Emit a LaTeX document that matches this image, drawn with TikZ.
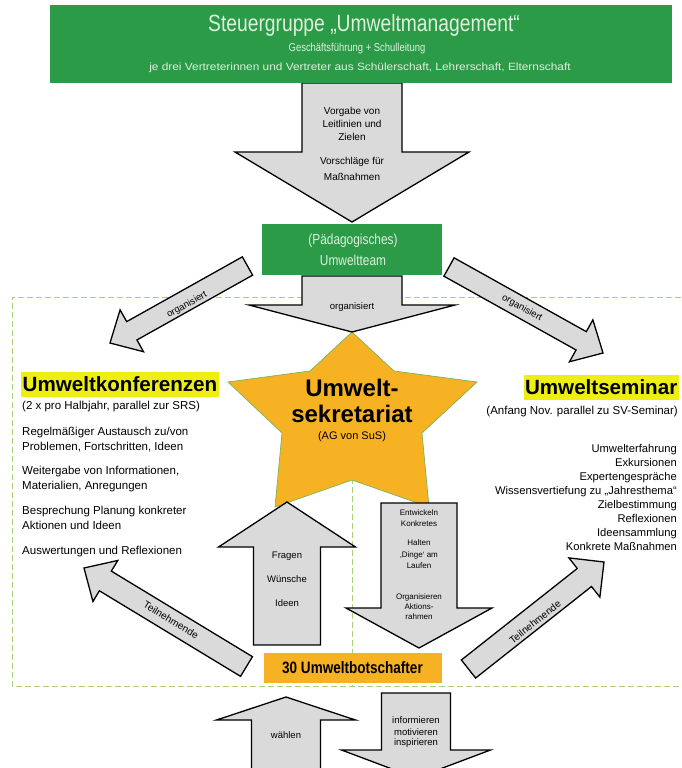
\documentclass[tikz,border=0pt]{standalone}
\usepackage{fontspec}
\setmainfont{Liberation Sans}
\newfontfamily\narrowfont[FakeStretch=0.82]{Liberation Sans}
\usetikzlibrary{calc}
\definecolor{ggreen}{RGB}{44,155,72}
\definecolor{gtext}{RGB}{222,240,222}
\definecolor{sorange}{RGB}{247,178,35}
\definecolor{hyellow}{RGB}{238,238,20}
\definecolor{agrey}{RGB}{218,218,218}
\definecolor{dgreen}{RGB}{170,208,120}
\definecolor{sedge}{RGB}{120,180,90}
\tikzset{
  arrowbody/.style={fill=agrey, draw=black, line width=1.3pt, line join=miter},
  dashline/.style={draw=dgreen, dash pattern=on 6pt off 3pt, line width=0.8pt},
  lbl/.style={inner sep=0pt, align=center},
  listtxt/.style={inner sep=0pt, font=\fontsize{11.5}{13}\selectfont},
  rlisttxt/.style={inner sep=0pt, font=\fontsize{11.2}{13}\selectfont},
  arrtxt/.style={inner sep=0pt, font=\fontsize{9.5}{11}\selectfont},
  smalltxt/.style={inner sep=0pt, font=\fontsize{8}{9}\selectfont},
  headtxt/.style={fill=hyellow, inner xsep=1.5pt, inner ysep=0pt, minimum height=25pt, font=\bfseries\fontsize{20.6}{22}\selectfont},
}
\newcommand\blockarrow[5]{%
  \coordinate (T) at (#1);
  \coordinate (P) at (#2);
  \coordinate (H) at ($(P)!#5!(T)$);
  \draw[arrowbody] ($(T)!#3!90:(P)$) -- ($(H)!#3!90:(P)$) -- ($(H)!#4!90:(P)$) -- (P)
     -- ($(H)!#4!-90:(P)$) -- ($(H)!#3!-90:(P)$) -- ($(T)!#3!-90:(P)$) -- cycle;
}
\begin{document}
\begin{tikzpicture}[x=1pt,y=-1pt]
\useasboundingbox (0,0) rectangle (681,768);
\clip (0,0) rectangle (681,768);
\fill[white] (0,0) rectangle (681,768);

% dashed frame
\draw[dashline] (681,297) -- (12,297) -- (12,686) -- (681,686);
\draw[dashline] (352,478) -- (352,686);

% top big arrow
\blockarrow{352,83}{352,222}{50pt}{117pt}{70pt}
\node[arrtxt, font=\fontsize{10}{11}\selectfont] (v1) at (352,112) {Vorgabe von};
\node[arrtxt, font=\fontsize{10}{11}\selectfont] (v2) at (352,124) {Leitlinien und};
\node[arrtxt, font=\fontsize{10}{11}\selectfont] (v3) at (352,137) {Zielen};
\node[arrtxt, font=\fontsize{10}{11}\selectfont] (v4) at (352,162) {Vorschläge für};
\node[arrtxt, font=\fontsize{10}{11}\selectfont] (v5) at (352,177) {Maßnahmen};

% banner
\node[fill=ggreen, minimum width=622pt, minimum height=77pt, inner sep=0pt] (steuer) at (361,44) {};
\node[lbl, text=gtext, font=\narrowfont\fontsize{23.5}{24}\selectfont] (st1) at (364,25) {Steuergruppe „Umweltmanagement“};
\node[lbl, text=gtext, font=\narrowfont\fontsize{11.5}{12}\selectfont] (st2) at (357,49) {Geschäftsführung + Schulleitung};
\node[lbl, text=gtext, font=\fontsize{10.5}{12}\selectfont] (st3) at (360,68) {\scalebox{1.13}[1]{je drei Vertreterinnen und Vertreter aus Schülerschaft, Lehrerschaft, Elternschaft}};

% Umweltteam
\node[fill=ggreen, minimum width=180pt, minimum height=51pt, inner sep=0pt] (team) at (352,249.5) {};
\node[lbl, text=gtext, font=\narrowfont\fontsize{14.5}{15}\selectfont] (tm1) at (353,241) {(Pädagogisches)};
\node[lbl, text=gtext, font=\narrowfont\fontsize{14.5}{15}\selectfont] (tm2) at (353,260) {Umweltteam};

% star
\draw[fill=sorange, draw=sedge, line width=0.7pt] (352,332) -- (394,371) -- (477,382) -- (422,433) -- (429,507) -- (352,480) -- (275,507) -- (282,433) -- (228,382) -- (310,371) -- cycle;
\node[lbl, font=\bfseries\fontsize{24}{26}\selectfont] (sk1) at (352,388) {Umwelt-};
\node[lbl, font=\bfseries\fontsize{24}{26}\selectfont] (sk2) at (352,414) {sekretariat};
\node[lbl, font=\fontsize{11}{12}\selectfont] (sk3) at (352,437) {(AG von SuS)};

% center organisiert arrow
\blockarrow{352,276}{352,332}{50pt}{103pt}{27pt}
\node[arrtxt] (oc) at (352,307) {organisiert};

% left / right organisiert
\blockarrow{247.5,266}{110,343}{10.5pt}{24pt}{25pt}
\node[arrtxt, rotate=29.2] (ol) at (187,305) {organisiert};
\blockarrow{449,267}{603,353}{10.5pt}{24pt}{25pt}
\node[arrtxt, rotate=-29.2] (or) at (522,308) {organisiert};

% Umweltkonferenzen
\node[headtxt, anchor=west] (uk) at (21,384.5) {Umweltkonferenzen};
\node[listtxt, anchor=base west] (uk0) at (22,409) {(2 x pro Halbjahr, parallel zur SRS)};
\node[listtxt, anchor=base west] (uk1) at (22,435) {Regelmäßiger Austausch zu/von};
\node[listtxt, anchor=base west] (uk2) at (22,450) {Problemen, Fortschritten, Ideen};
\node[listtxt, anchor=base west] (uk3) at (22,474) {Weitergabe von Informationen,};
\node[listtxt, anchor=base west] (uk4) at (22,489) {Materialien, Anregungen};
\node[listtxt, anchor=base west] (uk5) at (22,514) {Besprechung Planung konkreter};
\node[listtxt, anchor=base west] (uk6) at (22,529) {Aktionen und Ideen};
\node[listtxt, anchor=base west] (uk7) at (22,554) {Auswertungen und Reflexionen};

% Umweltseminar
\node[headtxt, anchor=east] (us) at (679,387) {Umweltseminar};
\node[listtxt, anchor=base east] (us0) at (678,414) {(Anfang Nov. parallel zu SV-Seminar)};
\foreach \t [count=\i] in {Umwelterfahrung, Exkursionen, Expertengespräche, Wissensvertiefung zu „Jahresthema“, Zielbestimmung, Reflexionen, Ideensammlung, Konkrete Maßnahmen}{
  \node[rlisttxt, anchor=base east] (us\i) at (677,{438+14.1*\i}) {\t};
}

% Fragen arrow
\blockarrow{287,645}{287,502}{33.5pt}{68.5pt}{45pt}
\node[arrtxt] (f1) at (287,556) {Fragen};
\node[arrtxt] (f2) at (287,579) {Wünsche};
\node[arrtxt] (f3) at (287,603) {Ideen};

% Entwickeln arrow
\blockarrow{419,503}{419,648}{38pt}{73pt}{40pt}
\node[smalltxt] (e1) at (419,513) {Entwickeln};
\node[smalltxt] (e2) at (419,524) {Konkretes};
\node[smalltxt] (e3) at (419,543) {Halten};
\node[smalltxt] (e4) at (419,555) {‚Dinge‘ am};
\node[smalltxt] (e5) at (419,566) {Laufen};
\node[smalltxt] (e6) at (419,597) {Organisieren};
\node[smalltxt] (e7) at (419,607) {Aktions-};
\node[smalltxt] (e8) at (419,617) {rahmen};

% Teilnehmende arrows
\blockarrow{246.5,666.5}{84,568}{11.5pt}{24pt}{25pt}
\node[arrtxt, font=\fontsize{10}{11}\selectfont, rotate=-31.2] (tl) at (171,620) {Teilnehmende};
\blockarrow{468.5,669}{604,562}{11.5pt}{25pt}{25pt}
\node[arrtxt, font=\fontsize{10}{11}\selectfont, rotate=38.3] (tr) at (535,622) {Teilnehmende};

% 30 Umweltbotschafter
\node[fill=sorange, minimum width=178pt, minimum height=30pt, inner sep=0pt, font=\narrowfont\bfseries\fontsize{16.5}{18}\selectfont] (bot) at (352.5,668) {30 Umweltbotschafter};

% bottom arrows
\blockarrow{286,775}{286,697}{34.5pt}{69.5pt}{23pt}
\node[arrtxt] (w1) at (286,735) {wählen};
\blockarrow{416,693}{416,778}{34.5pt}{74.5pt}{28pt}
\node[arrtxt] (i1) at (416,720) {informieren};
\node[arrtxt] (i2) at (416,732) {motivieren};
\node[arrtxt] (i3) at (416,743) {inspirieren};
\end{tikzpicture}
\end{document}
